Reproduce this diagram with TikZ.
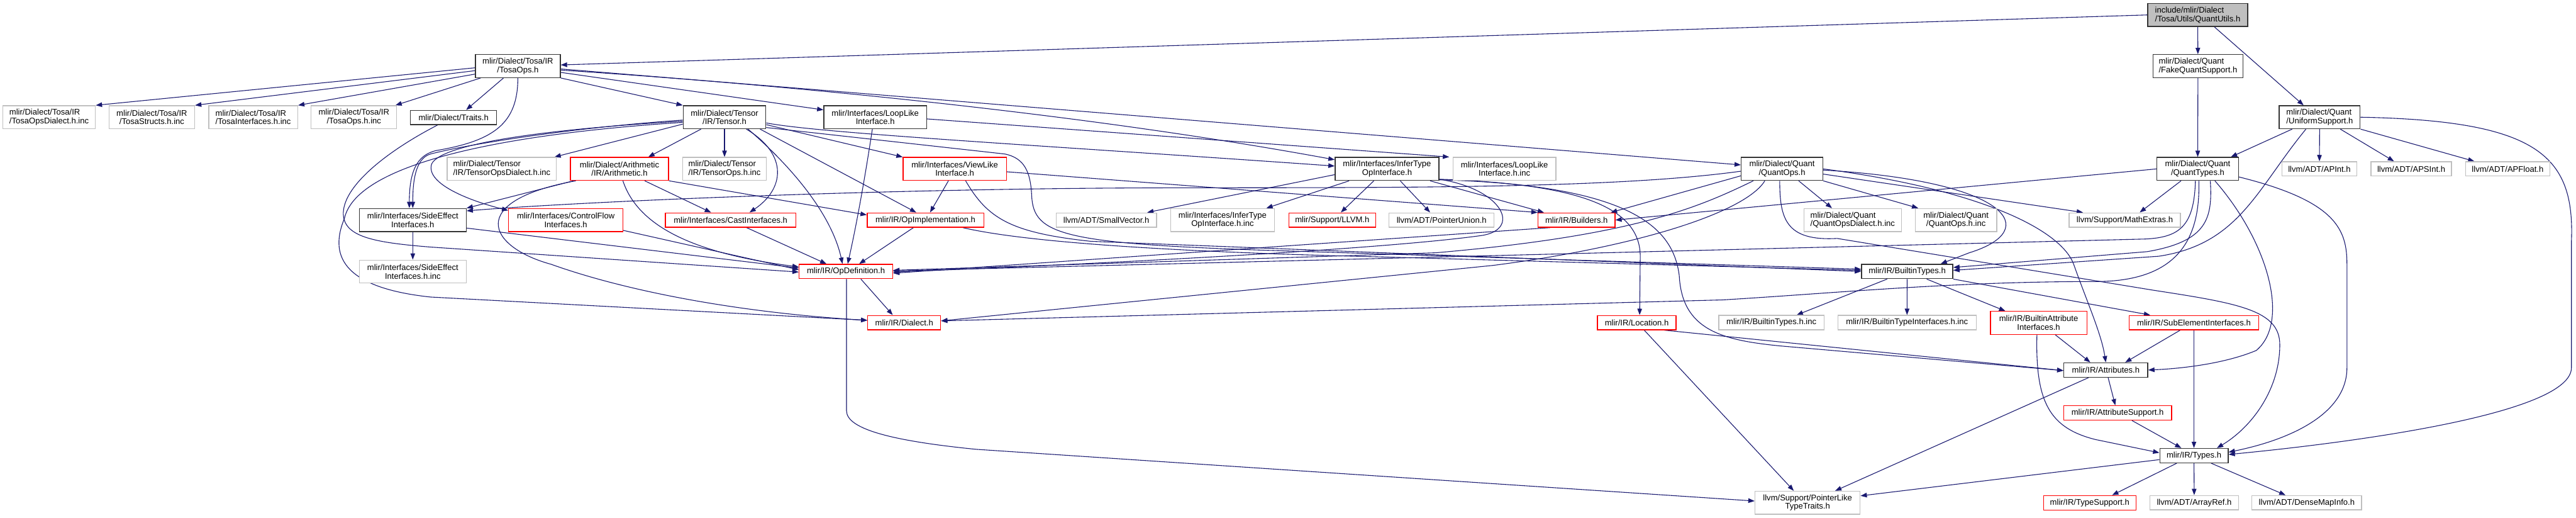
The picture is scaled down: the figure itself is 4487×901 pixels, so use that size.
\documentclass[tikz,border=0pt]{standalone}
\usepackage{fontspec}
\setmainfont{Liberation Sans}
\usetikzlibrary{arrows.meta}
\definecolor{edgec}{RGB}{25,25,112}
\definecolor{grayb}{RGB}{191,191,191}
\definecolor{redb}{RGB}{255,0,0}
\newlength\twa
\newlength\twb
\newcommand\twoline[2]{\settowidth\twa{#1}\settowidth\twb{#2}\ifdim\twb>\twa\twa=\twb\fi\vbox{\hbox to\twa{#1\hfil}\hbox to\twa{\hfil#2\hfil}}}
\pgfdeclarelayer{bg}
\pgfdeclarelayer{back}
\pgfsetlayers{back,bg,main}
\tikzset{
  nd/.style={rectangle, inner sep=0pt, fill=white, font=\fontsize{14.3}{15}\selectfont, line width=1.5pt},
  bk/.style={nd, draw=black!80},
  gy/.style={nd, draw=grayb},
  rd/.style={nd, draw=redb, line width=1.4pt},
  e/.style={draw=edgec, line width=1.2pt, -{Triangle[length=11pt,width=8pt]}},
  sz/.style 2 args={minimum width=#1pt, minimum height=#2pt},
}
\begin{document}
\begin{tikzpicture}[x=1pt,y=-1pt]
\begin{pgfonlayer}{back}
\fill[white] (0,0) rectangle (4487,901);
\end{pgfonlayer}
\useasboundingbox (0,0) rectangle (4487,901);

% ---------- nodes ----------
\node[bk, fill=grayb, sz={174}{40}] (QU) at (3828,26) {\twoline{include/mlir/Dialect}{/Tosa/Utils/QuantUtils.h}};
\node[bk, sz={148}{40}] (TO) at (902,115) {\twoline{mlir/Dialect/Tosa/IR}{/TosaOps.h}};
\node[bk, sz={157}{40}] (FQ) at (3828.5,115) {\twoline{mlir/Dialect/Quant}{/FakeQuantSupport.h}};
\node[bk, sz={141}{40}] (US) at (4040.5,204) {\twoline{mlir/Dialect/Quant}{/UniformSupport.h}};
\node[gy, sz={161}{40}] (TOD) at (85.5,204) {\twoline{mlir/Dialect/Tosa/IR}{/TosaOpsDialect.h.inc}};
\node[gy, sz={149}{40}] (TS) at (264.5,204) {\twoline{mlir/Dialect/Tosa/IR}{/TosaStructs.h.inc}};
\node[gy, sz={155}{40}] (TI) at (441,204) {\twoline{mlir/Dialect/Tosa/IR}{/TosaInterfaces.h.inc}};
\node[gy, sz={149}{40}] (TOI) at (616.5,204) {\twoline{mlir/Dialect/Tosa/IR}{/TosaOps.h.inc}};
\node[bk, sz={150}{25}] (TR) at (790,204.5) {mlir/Dialect/Traits.h};
\node[bk, sz={144}{40}] (TE) at (1262,204) {\twoline{mlir/Dialect/Tensor}{/IR/Tensor.h}};
\node[bk, sz={179}{40}] (LL) at (1524.5,204) {\twoline{mlir/Interfaces/LoopLike}{Interface.h}};
\node[gy, sz={190}{40}] (TEOD) at (874,294) {\twoline{mlir/Dialect/Tensor}{/IR/TensorOpsDialect.h.inc}};
\node[rd, sz={171}{40}] (AR) at (1079,294) {\twoline{mlir/Dialect/Arithmetic}{/IR/Arithmetic.h}};
\node[gy, sz={146}{40}] (TEOI) at (1262,294) {\twoline{mlir/Dialect/Tensor}{/IR/TensorOps.h.inc}};
\node[rd, sz={180}{40}] (VL) at (1663,294) {\twoline{mlir/Interfaces/ViewLike}{Interface.h}};
\node[bk, sz={181}{40}] (IT) at (2416,294) {\twoline{mlir/Interfaces/InferType}{OpInterface.h}};
\node[gy, sz={179}{40}] (LLI) at (2620.5,294) {\twoline{mlir/Interfaces/LoopLike}{Interface.h.inc}};
\node[bk, sz={142}{40}] (QO) at (3104,294) {\twoline{mlir/Dialect/Quant}{/QuantOps.h}};
\node[bk, sz={142}{40}] (QT) at (3828,294) {\twoline{mlir/Dialect/Quant}{/QuantTypes.h}};
\node[gy, sz={131}{25}] (API) at (4040,294) {llvm/ADT/APInt.h};
\node[gy, sz={140}{25}] (APS) at (4200,294) {llvm/ADT/APSInt.h};
\node[gy, sz={147}{25}] (APF) at (4368,294) {llvm/ADT/APFloat.h};
\node[bk, sz={186}{40}] (SE) at (719,383) {\twoline{mlir/Interfaces/SideEffect}{Interfaces.h}};
\node[rd, sz={199}{40}] (CF) at (985.5,383) {\twoline{mlir/Interfaces/ControlFlow}{Interfaces.h}};
\node[rd, sz={227}{25}] (CI) at (1272.5,383) {mlir/Interfaces/CastInterfaces.h};
\node[rd, sz={203}{25}] (OI) at (1612,383) {mlir/IR/OpImplementation.h};
\node[gy, sz={175}{25}] (SV) at (1927,383) {llvm/ADT/SmallVector.h};
\node[gy, sz={181}{40}] (ITI) at (2129.5,383) {\twoline{mlir/Interfaces/InferType}{OpInterface.h.inc}};
\node[rd, sz={151}{25}] (LLVM) at (2320.5,383) {mlir/Support/LLVM.h};
\node[gy, sz={183}{25}] (PU) at (2511,383) {llvm/ADT/PointerUnion.h};
\node[rd, sz={134}{25}] (BU) at (2746,383) {mlir/IR/Builders.h};
\node[gy, sz={170}{40}] (QODI) at (3227,383) {\twoline{mlir/Dialect/Quant}{/QuantOpsDialect.h.inc}};
\node[gy, sz={142}{40}] (QOI) at (3407,383) {\twoline{mlir/Dialect/Quant}{/QuantOps.h.inc}};
\node[gy, sz={194}{25}] (ME) at (3701,383) {llvm/Support/MathExtras.h};
\node[gy, sz={186}{40}] (SEI) at (719,472.7) {\twoline{mlir/Interfaces/SideEffect}{Interfaces.h.inc}};
\node[rd, sz={163}{25}] (OD) at (1473.5,472.5) {mlir/IR/OpDefinition.h};
\node[bk, sz={159}{25}] (BT) at (3322,472.5) {mlir/IR/BuiltinTypes.h};
\node[rd, sz={127}{25}] (DI) at (1575,561.5) {mlir/IR/Dialect.h};
\node[rd, sz={137}{25}] (LO) at (2851,561.5) {mlir/IR/Location.h};
\node[gy, sz={183}{25}] (BTI) at (3085.5,561.5) {mlir/IR/BuiltinTypes.h.inc};
\node[gy, sz={241}{25}] (BTII) at (3321.7,561.5) {mlir/IR/BuiltinTypeInterfaces.h.inc};
\node[rd, sz={168}{40}] (BAI) at (3551,562) {\twoline{mlir/IR/BuiltinAttribute}{Interfaces.h}};
\node[rd, sz={225}{25}] (SUB) at (3821.5,561.5) {mlir/IR/SubElementInterfaces.h};
\node[bk, sz={146}{25}] (AT) at (3668,644) {mlir/IR/Attributes.h};
\node[rd, sz={188}{25}] (AS) at (3688.5,718.7) {mlir/IR/AttributeSupport.h};
\node[bk, sz={119}{25}] (TY) at (3821.5,793) {mlir/IR/Types.h};
\node[gy, sz={183}{40}] (PLT) at (3148.5,875) {\twoline{llvm/Support/PointerLike}{TypeTraits.h}};
\node[rd, sz={161}{25}] (TSU) at (3640,875) {mlir/IR/TypeSupport.h};
\node[gy, sz={154}{25}] (AREF) at (3822,875) {llvm/ADT/ArrayRef.h};
\node[gy, sz={191}{25}] (DMI) at (4018,875) {llvm/ADT/DenseMapInfo.h};

% ---------- edges ----------
\begin{pgfonlayer}{bg}
% QuantUtils
\draw[e] (QU.west) -- ([yshift=2pt]TO.east);
\draw[e] (QU) -- (FQ);
\draw[e] ([xshift=29pt]QU.south) -- ([xshift=-28pt]US.north);
% FakeQuantSupport / UniformSupport
\draw[e] (FQ) -- (QT);
\draw[e] ([xshift=-48pt]US.south) -- ([xshift=-14pt]QT.north east);
\draw[e] (US) -- (API);
\draw[e] ([xshift=36pt]US.south) -- ([xshift=-30pt]APS.north);
\draw[e] (US.south east) -- ([xshift=-58pt]APF.north);
\draw[e] ([xshift=-24pt]US.south) .. controls (3930,330) and (3900,425) .. (3760,446) -- ([yshift=2pt]BT.east);
\draw[e] (US.east) .. controls (4420,210) and (4485,270) .. (4479,420) -- (4479,640) .. controls (4479,720) and (4100,770) .. ([yshift=2pt]TY.east);
% TosaOps
\draw[e] ([yshift=-3pt]TO.west) -- (TOD.north east);
\draw[e] ([yshift=-8pt]TO.west) -- (TS.north east);
\draw[e] ([yshift=-14pt]TO.west) -- (TI.north east);
\draw[e] ([xshift=10pt]TO.south west) -- ([xshift=-3pt]TOI.north east);
\draw[e] ([xshift=-25pt]TO.south) -- ([xshift=22pt]TR.north);
\draw[e] (TO.south) .. controls (902,215) and (860,245) .. (760,262) .. controls (725,270) and (713,300) .. ([xshift=-6pt]SE.north);
\draw[e] (TO.south east) -- (TE.north west);
\draw[e] ([yshift=-11pt]TO.east) -- ([yshift=-8pt]LL.north west);
\draw[e] ([yshift=-7pt]TO.east) .. controls (1400,150) and (1900,200) .. ([yshift=16pt]IT.west);
\draw[e] ([yshift=-5pt]TO.east) -- ([yshift=7pt]QO.west);
% Traits
\draw[e] ([xshift=-28pt]TR.south) .. controls (680,260) and (600,320) .. (598,370) .. controls (597,412) and (650,422) .. (750,430) -- ([yshift=-1pt]OD.west);
% Tensor
\draw[e] ([yshift=-12pt]TE.west) -- ([xshift=-4pt]TEOD.north east);
\draw[e] ([xshift=-41pt]TE.south) -- ([xshift=-36pt]AR.north east);
\draw[e] (TE) -- (TEOI);
\draw[e] ([xshift=38pt]TE.south) .. controls (1375,270) and (1365,330) .. ([xshift=33pt]CI.north);
\draw[e] ([xshift=41pt]TE.south) .. controls (1390,300) and (1450,380) .. ([xshift=-6pt]OD.north);
\draw[e] ([xshift=62pt]TE.south) -- ([xshift=-16pt]OI.north);
\draw[e] ([yshift=-13pt]TE.east) -- (VL.north west);
\draw[e] ([yshift=-10pt]TE.east) .. controls (1430,232) and (1800,252) .. ([yshift=5pt]IT.west);
\draw[e] ([yshift=-18pt]TE.east) -- (1750,268) .. controls (1785,275) and (1795,300) .. (1797,340) .. controls (1800,410) and (1850,425) .. (2250,437) -- ([yshift=4pt]BT.west);
\draw[e] ([yshift=-5pt]TE.west) .. controls (1000,222) and (820,250) .. (750,268) .. controls (722,276) and (719,320) .. (SE.north);
\draw[e] ([yshift=-7pt]TE.west) .. controls (950,225) and (770,250) .. (752,285) .. controls (740,320) and (820,350) .. ([yshift=-4pt]CF.north west);
\draw[e] ([yshift=-9pt]TE.west) .. controls (850,235) and (620,290) .. (600,380) .. controls (575,440) and (590,500) .. (750,517) -- ([yshift=4pt]DI.west);
% LoopLike
\draw[e] ([yshift=-3pt]LL.east) -- ([xshift=-6pt]LLI.north west);
\draw[e] ([xshift=-5pt]LL.south) .. controls (1505,320) and (1490,400) .. ([xshift=3pt]OD.north);
% Arithmetic
\draw[e] ([xshift=-80pt]AR.south) -- (SE.north east);
\draw[e] ([xshift=-76pt]AR.south) .. controls (810,350) and (850,430) .. (960,460) .. controls (1100,510) and (1300,545) .. ([yshift=4pt]DI.west);
\draw[e] ([xshift=6pt]AR.south) .. controls (1110,390) and (1200,440) .. ([yshift=8pt]OD.west);
\draw[e] ([xshift=44pt]AR.south) -- ([xshift=-34pt]CI.north);
\draw[e] (AR.south east) -- ([yshift=9pt]OI.west);
% ViewLike
\draw[e] ([xshift=-11pt]VL.south) -- ([xshift=8pt]OI.north);
\draw[e] ([yshift=-5pt]VL.east) -- (BU.north west);
\draw[e] ([xshift=19pt]VL.south) .. controls (1720,380) and (1760,405) .. (1900,420) -- (BT.west);
% SideEffect, ControlFlow, Cast, OpImplementation
\draw[e] (SE) -- (SEI);
\draw[e] ([yshift=-14pt]SE.east) -- ([yshift=6pt]OD.west);
\draw[e] ([yshift=-18pt]CF.east) -- ([yshift=3pt]OD.west);
\draw[e] ([xshift=28pt]CI.south) -- ([xshift=-34pt]OD.north);
\draw[e] ([xshift=-21pt]OI.south) -- ([xshift=23pt]OD.north);
\draw[e] ([xshift=65pt]OI.south) .. controls (1800,425) and (2100,440) .. (2400,447) -- ([yshift=2pt]BT.west);
% InferTypeOpInterface
\draw[e] ([yshift=-10pt]IT.west) -- ([xshift=-17pt]SV.north east);
\draw[e] ([xshift=-66pt]IT.south) -- ([xshift=-15pt]ITI.north east);
\draw[e] ([xshift=-23pt]IT.south) -- ([xshift=15pt]LLVM.north);
\draw[e] ([xshift=23pt]IT.south) -- ([xshift=-20pt]PU.north);
\draw[e] ([xshift=75pt]IT.south) -- ([xshift=11pt]BU.north west);
\draw[e] ([yshift=-18pt]IT.east) .. controls (2620,330) and (2650,400) .. (2580,410) .. controls (2400,435) and (1900,460) .. ([yshift=-1pt]OD.east);
\draw[e] ([yshift=-18pt]IT.east) .. controls (2750,320) and (2860,360) .. (2857,450) -- ([xshift=5pt]LO.north);
\draw[e] ([yshift=-19pt]IT.east) .. controls (2850,322) and (2915,400) .. (2925,480) .. controls (2930,575) and (3000,592) .. (3100,602) -- ([yshift=-1pt]AT.west);
% Builders
\draw[e] ([xshift=-46pt]BU.south) -- ([yshift=-3pt]OD.east);
% QuantOps
\draw[e] ([yshift=-4pt]QO.west) .. controls (2800,330) and (2400,326) .. (2000,327) .. controls (1500,329) and (1000,352) .. ([yshift=16pt]SE.east);
\draw[e] ([yshift=-12pt]QO.west) -- ([xshift=-8pt]BU.north east);
\draw[e] ([xshift=-50pt]QO.south) .. controls (2960,360) and (2850,410) .. (2500,440) -- ([yshift=2pt]OD.east);
\draw[e] ([xshift=-30pt]QO.south) .. controls (3040,370) and (2850,430) .. (2600,462) -- ([yshift=3pt]DI.east);
\draw[e] ([xshift=-4pt]QO.south) .. controls (3100,380) and (3110,420) .. (3200,415) -- (3750,505) .. controls (3900,528) and (3971,540) .. (3971,600) .. controls (3971,680) and (3920,745) .. ([xshift=40pt]TY.north);
\draw[e] ([yshift=-2pt]QO.east) .. controls (3500,315) and (3560,400) .. (3430,440) -- ([xshift=-22pt]BT.north east);
\draw[e] (QO.east) .. controls (3450,330) and (3590,400) .. (3612,460) .. controls (3635,525) and (3660,580) .. (AT.north);
\draw[e] ([yshift=-9pt]QO.east) -- ([xshift=25pt]ME.north west);
\draw[e] ([xshift=29pt]QO.south) -- ([xshift=-36pt]QODI.north);
\draw[e] (QO.south east) -- ([xshift=6pt]QOI.north west);
% QuantTypes
\draw[e] (QT.west) -- (BU.east);
\draw[e] ([xshift=-29pt]QT.south) -- ([xshift=26pt]ME.north);
\draw[e] ([xshift=-4pt]QT.south) .. controls (3822,395) and (3795,413) .. (3737,416) -- ([yshift=1pt]OD.east);
\draw[e] ([xshift=2pt]QT.south) .. controls (3833,420) and (3790,490) .. (3650,490) .. controls (3400,490) and (3200,510) .. (3000,522) -- ([yshift=3pt]DI.east);
\draw[e] ([xshift=22pt]QT.south) .. controls (3854,380) and (3845,420) .. (3740,438) -- ([yshift=7pt]BT.east);
\draw[e] ([xshift=30pt]QT.south) .. controls (3950,420) and (3990,560) .. (3930,610) .. controls (3870,635) and (3790,642) .. (AT.east);
\draw[e] ([yshift=-14pt]QT.east) .. controls (4070,350) and (4088,400) .. (4088,460) -- (4088,640) .. controls (4088,720) and (3990,765) .. ([yshift=6pt]TY.east);
% OpDefinition
\draw[e] ([xshift=26pt]OD.south) -- ([xshift=-20pt]DI.north);
\draw[e] ([xshift=1pt]OD.south) -- (1474.5,715) .. controls (1474.5,748) and (1560,768) .. (1700,782) -- ([yshift=3pt]PLT.west);
% Location
\draw[e] ([xshift=48pt]LO.south) -- ([yshift=-1pt]AT.west);
\draw[e] ([xshift=13pt]LO.south) -- ([xshift=-24pt]PLT.north);
% BuiltinTypes
\draw[e] ([xshift=-35pt]BT.south) -- ([xshift=44pt]BTI.north);
\draw[e] (BT) -- (BTII);
\draw[e] ([xshift=34pt]BT.south) -- ([xshift=-58pt]BAI.north);
\draw[e] (BT.south east) -- ([xshift=37pt]SUB.north west);
% BuiltinAttributeInterfaces, SubElementInterfaces
\draw[e] ([xshift=29pt]BAI.south) -- ([xshift=-27pt]AT.north);
\draw[e] ([xshift=-3pt]BAI.south) .. controls (3545,700) and (3570,745) .. (3650,765) -- ([yshift=5pt]TY.west);
\draw[e] ([xshift=-24pt]SUB.south) -- ([xshift=-40pt]AT.north east);
\draw[e] (SUB) -- (TY);
% Attributes, AttributeSupport
\draw[e] ([xshift=4pt]AT.south) -- ([xshift=-4pt]AS.north);
\draw[e] ([xshift=-30pt]AT.south) -- ([xshift=48pt]PLT.north);
\draw[e] ([xshift=25pt]AS.south) -- ([xshift=-22pt]TY.north);
% Types
\draw[e] ([yshift=-7pt]TY.west) -- ([yshift=12pt]PLT.east);
\draw[e] ([xshift=-30pt]TY.south) -- ([xshift=39pt]TSU.north);
\draw[e] (TY) -- (AREF);
\draw[e] ([xshift=30pt]TY.south) -- ([xshift=-37pt]DMI.north);
\end{pgfonlayer}
\end{tikzpicture}
\end{document}
